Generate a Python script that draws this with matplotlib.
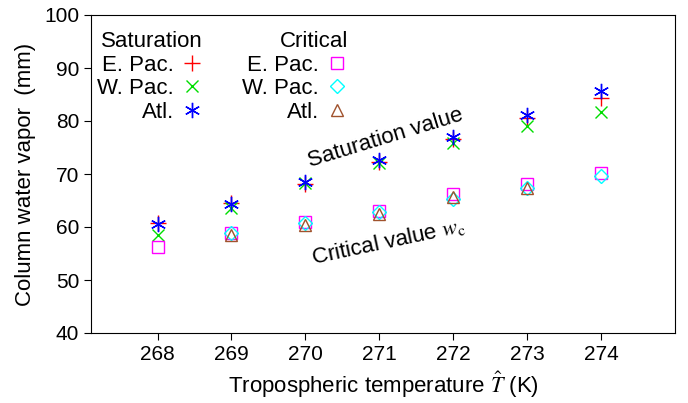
import matplotlib
matplotlib.use("Agg")
import matplotlib.pyplot as plt

plt.rcParams['font.family'] = ['Liberation Sans', 'DejaVu Sans']
plt.rcParams['mathtext.fontset'] = 'stix'
T = [268, 269, 270, 271, 272, 273, 274]
sat_epac = [60.7, 64.5, 68.2, 72.3, 76.6, 80.6, 84.4]
sat_wpac = [58.5, 63.6, 68.3, 72.1, 75.8, 79.0, 81.7]
sat_atl = [60.5, 64.4, 68.4, 72.7, 77.0, 81.2, 85.6]
T_crit_e = [268, 269, 270, 271, 272, 273, 274]
crit_epac = [56.2, 58.8, 61.0, 63.0, 66.3, 68.2, 70.1]
T_crit_w = [269, 270, 271, 272, 273, 274]
crit_wpac = [58.9, 60.8, 62.8, 65.3, 67.3, 69.6]
T_crit_a = [269, 270, 271, 272, 273]
crit_atl = [58.5, 60.3, 62.5, 65.6, 67.4]

fig = plt.figure(figsize=(6.88, 4.03), dpi=100)
ax = fig.add_axes([91/688, 1-333/403, 584/688, 318/403])
h1, = ax.plot(T, sat_epac, '+', color='red', ms=11, mew=1, linestyle='none')
h2, = ax.plot(T, sat_wpac, 'x', color='#00dd00', ms=9, mew=1, linestyle='none')
h3, = ax.plot(T, sat_atl, marker=(6, 2, 0), color='blue', ms=11, mew=1, linestyle='none')
h4, = ax.plot(T_crit_e, crit_epac, 's', mfc='none', mec='magenta', ms=9, mew=1, linestyle='none')
h5, = ax.plot(T_crit_w, crit_wpac, 'D', mfc='none', mec='cyan', ms=7, mew=1, linestyle='none')
h6, = ax.plot(T_crit_a, crit_atl, '^', mfc='none', mec='sienna', ms=9, mew=1, linestyle='none')

ax.set_xlim(267.1, 275)
ax.set_ylim(40, 100)
ax.set_xticks(T)
ax.set_yticks(range(40, 101, 10))
ax.tick_params(direction='out', labelsize=15, length=5)
ax.set_xlabel(r'Tropospheric temperature $\hat{T}$ (K)', fontsize=16, labelpad=4)
ax.set_ylabel('Column water vapor  (mm)', fontsize=16, labelpad=6)

kw = dict(frameon=False, markerfirst=False, fontsize=16, handletextpad=0.3,
          labelspacing=0.12, borderpad=0, handlelength=1.0, title_fontsize=16)
l1 = ax.legend([h1, h2, h3], ['E. Pac.', 'W. Pac.', 'Atl.'], title='Saturation',
               loc='upper left', bbox_to_anchor=(-0.008, 0.985), alignment='right', **kw)
ax.add_artist(l1)
ax.legend([h4, h5, h6], ['E. Pac.', 'W. Pac.', 'Atl.'], title='Critical',
          loc='upper left', bbox_to_anchor=(0.24, 0.985), alignment='right', **kw)

ax.text(270.0, 70.5, 'Saturation value', rotation=17, fontsize=16, ha='left', va='bottom')
ax.text(270.05, 52, r'Critical value $w_\mathrm{c}$', rotation=12, fontsize=16, ha='left', va='bottom')

fig.savefig('out.png', dpi=100)
